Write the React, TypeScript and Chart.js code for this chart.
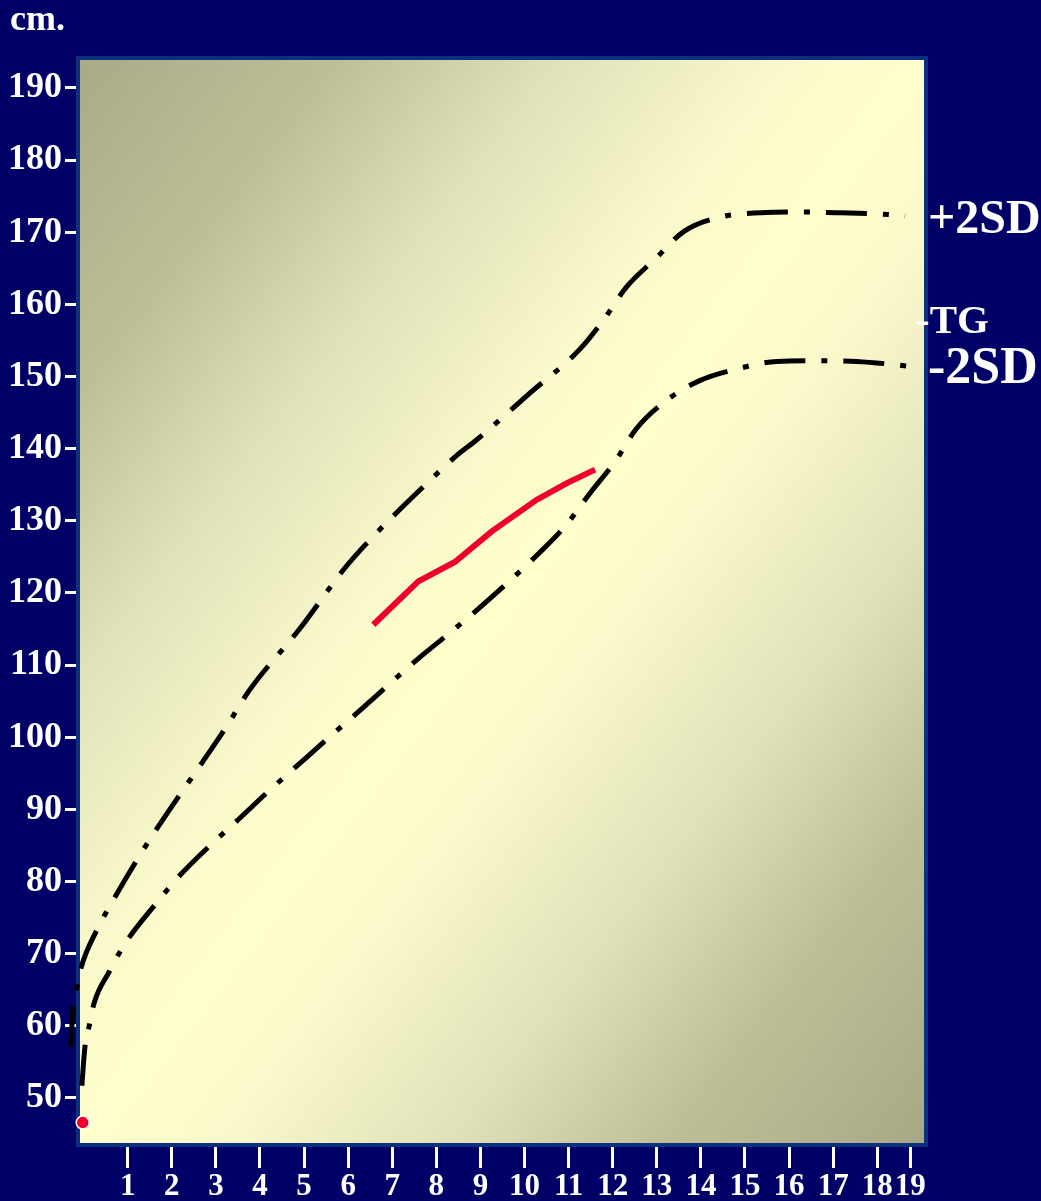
import { useEffect, useRef } from 'react';
import { Chart, registerables } from 'chart.js';

Chart.register(...registerables);

// +2SD curve (age in years, height in cm)
const upperAges = [-0.29, -0.24, -0.15, -0.06, 0.3, 0.51, 1.2, 1.68, 2.19, 2.7, 3.22, 3.77, 4.91, 5.93, 6.53, 7.16, 7.82, 8.47, 8.91, 10.12, 11.24, 11.82, 12.31, 12.98, 13.61, 14.51, 15.36, 16.31, 17.17, 18.12, 18.63];
const upperHeights = [57.1, 62.6, 65.4, 68.0, 73.3, 75.7, 82.9, 87.5, 92.1, 96.6, 101.3, 106.6, 115.1, 123.5, 127.6, 131.5, 135.4, 139.1, 141.2, 147.7, 153.7, 158.1, 162.4, 166.4, 170.1, 172.2, 172.7, 172.8, 172.7, 172.5, 172.3];

// -2SD curve
const lowerAges = [-0.04, 0.03, 0.12, 0.24, 0.6, 0.81, 1.05, 1.62, 2.19, 2.85, 3.51, 4.19, 4.87, 5.55, 6.19, 7.59, 8.29, 8.97, 9.65, 10.31, 10.94, 11.48, 12.05, 12.54, 13.22, 13.96, 14.85, 15.72, 16.66, 17.53, 18.46, 18.97];
const lowerHeights = [51.7, 57.1, 59.8, 63.2, 67.7, 70.1, 72.4, 76.8, 80.9, 84.9, 88.6, 92.5, 96.2, 99.9, 103.3, 110.9, 114.4, 117.9, 121.6, 125.4, 129.4, 133.8, 138.2, 142.8, 146.7, 149.4, 151.1, 152.1, 152.2, 152.1, 151.6, 151.2];

// Patient growth (red)
const patientAges = [6.57, 7.59, 8.42, 9.25, 10.27, 10.95, 11.6];
const patientHeights = [115.6, 121.6, 124.3, 128.5, 132.9, 135.2, 137.1];

// Birth point
const birthAges = [-0.02];
const birthHeights = [46.6];

const yTicks = [50, 60, 70, 80, 90, 100, 110, 120, 130, 140, 150, 160, 170, 180, 190];
const xTickValues = [1, 2, 3, 4, 5, 6, 7, 8, 9, 10, 11, 12, 13, 14, 15, 16, 17, 18, 18.75];
const xTickLabels = ['1', '2', '3', '4', '5', '6', '7', '8', '9', '10', '11', '12', '13', '14', '15', '16', '17', '18', '19'];

const X_MIN = -0.082;
const X_MAX = 19.06;
const Y_MIN = 43.76;
const Y_MAX = 193.88;

const FONT = "'Liberation Serif', 'Times New Roman', serif";
const W = 1041;
const H = 1201;

const toPoints = (xs: number[], ys: number[]) => xs.map((x, i) => ({ x, y: ys[i] }));

export default function App() {
  const ref = useRef<HTMLCanvasElement>(null);

  useEffect(() => {
    if (!ref.current) return;

    const decor = {
      id: 'decor',
      beforeDraw(chart: any) {
        const ctx = chart.ctx;
        ctx.save();
        ctx.fillStyle = '#000066';
        ctx.fillRect(0, 0, chart.width, chart.height);
        ctx.restore();
      },
      beforeDatasetsDraw(chart: any) {
        const ctx = chart.ctx;
        const { left, right, top, bottom } = chart.chartArea;
        const w = right - left;
        const h = bottom - top;
        const cx = left + w / 2;
        const cy = top + h / 2;
        const len = Math.hypot(w, h);
        const ux = h / len;
        const uy = w / len;
        const d = Math.abs((-w / 2) * ux + (-h / 2) * uy);
        const g = ctx.createLinearGradient(cx - d * ux, cy - d * uy, cx + d * ux, cy + d * uy);
        g.addColorStop(0, '#aaaa88');
        g.addColorStop(0.15, '#bebe96');
        g.addColorStop(0.28, '#e1e1b9');
        g.addColorStop(0.42, '#f9f9cb');
        g.addColorStop(0.5, '#ffffcc');
        g.addColorStop(0.58, '#f9f9cb');
        g.addColorStop(0.72, '#e1e1b9');
        g.addColorStop(0.85, '#bebe96');
        g.addColorStop(1, '#a8a887');
        ctx.save();
        ctx.fillStyle = g;
        ctx.fillRect(left, top, w, h);
        ctx.strokeStyle = '#0d2f7f';
        ctx.lineWidth = 4;
        ctx.strokeRect(left - 2, top - 2, w + 4, h + 4);
        ctx.restore();
      },
      afterDraw(chart: any) {
        const ctx = chart.ctx;
        const { right } = chart.chartArea;
        ctx.save();
        ctx.fillStyle = '#ffffff';
        ctx.textBaseline = 'alphabetic';
        ctx.textAlign = 'left';
        ctx.font = `bold 36px ${FONT}`;
        ctx.fillText('cm.', 10, 30);
        ctx.font = `bold 48px ${FONT}`;
        ctx.fillText('+2SD', right + 4, 233);
        ctx.font = `bold 41px ${FONT}`;
        ctx.fillText('-TG', right - 8, 333);
        ctx.font = `bold 52px ${FONT}`;
        ctx.fillText('-2SD', right + 4, 383);
        ctx.restore();
      },
    };

    const curveStyle = {
      borderColor: '#000000',
      borderWidth: 5,
      borderDash: [41, 16, 6, 16],
      borderCapStyle: 'butt' as const,
      pointRadius: 0,
      fill: false,
      cubicInterpolationMode: 'monotone' as const,
      clip: false as any,
    };

    const chart = new Chart(ref.current, {
      type: 'line',
      data: {
        datasets: [
          { label: '+2SD', data: toPoints(upperAges, upperHeights), ...curveStyle },
          { label: '-2SD', data: toPoints(lowerAges, lowerHeights), ...curveStyle },
          {
            label: 'TG',
            data: toPoints(patientAges, patientHeights),
            borderColor: '#f0002c',
            borderWidth: 6,
            pointRadius: 0,
            tension: 0,
            fill: false,
            borderCapStyle: 'butt',
          },
          {
            label: 'birth',
            data: toPoints(birthAges, birthHeights),
            showLine: false,
            pointRadius: 6.5,
            pointBackgroundColor: '#f0002c',
            pointBorderColor: '#ffffff',
            pointBorderWidth: 1.5,
            clip: false as any,
          },
        ],
      },
      options: {
        responsive: false,
        animation: false,
        events: [],
        layout: { padding: { top: 60, right: 117, left: 0, bottom: 0 } },
        plugins: { legend: { display: false }, tooltip: { enabled: false } },
        scales: {
          x: {
            type: 'linear',
            bounds: 'data',
            afterDataLimits: (s: any) => {
              s.min = X_MIN;
              s.max = X_MAX;
            },
            afterBuildTicks: (s: any) => {
              s.ticks = xTickValues.map((v) => ({ value: v }));
            },
            afterFit: (s: any) => {
              s.height = 58;
            },
            ticks: {
              autoSkip: false,
              maxRotation: 0,
              color: '#ffffff',
              padding: 0,
              font: { family: FONT, size: 31, weight: 'bold' },
              callback: (v: any) => xTickLabels[xTickValues.indexOf(Number(v))] ?? '',
            },
            grid: { drawOnChartArea: false, color: '#ffffff', lineWidth: 3, tickLength: 25 },
            border: { display: false },
          },
          y: {
            type: 'linear',
            min: Y_MIN,
            max: Y_MAX,
            afterBuildTicks: (s: any) => {
              s.ticks = yTicks.map((v) => ({ value: v }));
            },
            afterFit: (s: any) => {
              s.width = 80;
            },
            ticks: {
              autoSkip: false,
              color: '#ffffff',
              padding: 3,
              font: { family: FONT, size: 36, weight: 'bold' },
              callback: (v: any) => String(v),
            },
            grid: { drawOnChartArea: false, color: '#ffffff', lineWidth: 3, tickLength: 15 },
            border: { display: false },
          },
        },
      },
      plugins: [decor],
    });

    return () => chart.destroy();
  }, []);

  return (
    <div style={{ position: 'fixed', left: 0, top: 0, width: W, height: H, background: '#000066' }}>
      <canvas ref={ref} width={W} height={H} style={{ width: W, height: H, display: 'block' }} />
    </div>
  );
}
